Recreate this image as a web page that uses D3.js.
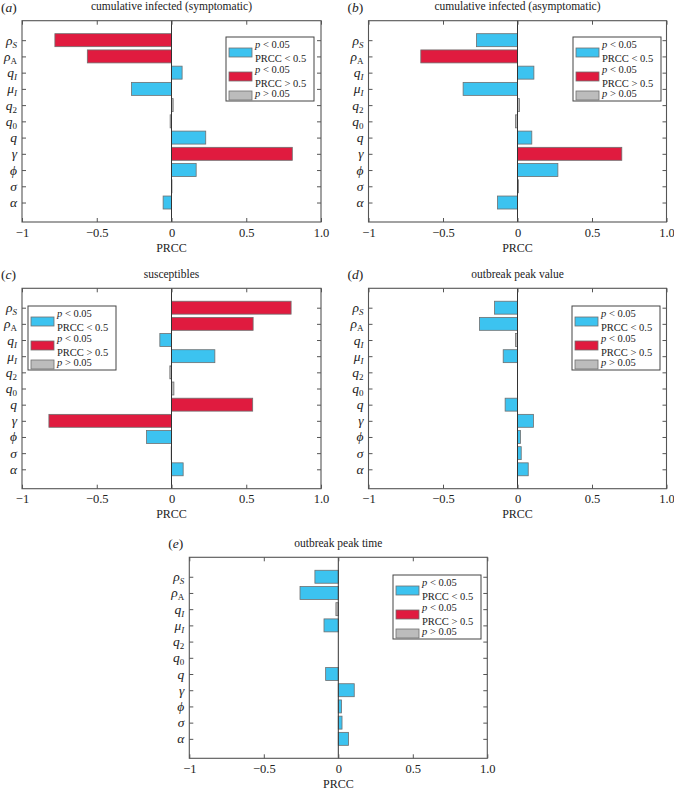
<!DOCTYPE html>
<html>
<head>
<meta charset="utf-8">
<script src="https://cdn.jsdelivr.net/npm/d3@7"></script>
<style>
  body { margin: 0; background: #fff; }
  svg { display: block; }
  text { font-family: "Liberation Serif", "DejaVu Serif", serif; fill: #222; }
</style>
</head>
<body>
<svg id="chart" width="674" height="792"></svg>
<script>
// ---- data ----
const paramBase = ["ρ", "ρ", "q", "μ", "q", "q", "q", "γ", "ϕ", "σ", "α"];
const paramSub  = ["S", "A", "I", "I", "2", "0", "", "", "", "", ""];
const subItalic = [true, false, true, true, false, false, false, false, false, false, false];

const xTicks = [-1, -0.5, 0, 0.5, 1];
const xTickLabels = ["−1", "−0.5", "0", "0.5", "1.0"];

const panelLetters = ["a", "b", "c", "d", "e"];
const panelTitles = [
  "cumulative infected (symptomatic)",
  "cumulative infected (asymptomatic)",
  "susceptibles",
  "outbreak peak value",
  "outbreak peak time"
];

// PRCC values, order: ρS, ρA, qI, μI, q2, q0, q, γ, ϕ, σ, α
const prccA = [-0.78, -0.563, 0.071, -0.267, 0.011, -0.009, 0.229, 0.808, 0.165, 0.003, -0.056];
const prccB = [-0.275, -0.649, 0.110, -0.365, 0.013, -0.013, 0.096, 0.700, 0.271, 0.006, -0.134];
const prccC = [0.800, 0.546, -0.078, 0.290, -0.011, 0.016, 0.543, -0.820, -0.167, -0.002, 0.078];
const prccD = [-0.154, -0.255, -0.013, -0.096, 0, 0, -0.083, 0.107, 0.020, 0.025, 0.072];
const prccE = [-0.157, -0.257, -0.016, -0.096, 0, 0, -0.085, 0.107, 0.022, 0.025, 0.069];

// significance class: lo = p<0.05 & |PRCC|<0.5, hi = p<0.05 & |PRCC|>0.5, ns = p>0.05
const classA = ["hi", "hi", "lo", "lo", "ns", "ns", "lo", "hi", "lo", "ns", "lo"];
const classB = ["lo", "hi", "lo", "lo", "ns", "ns", "lo", "hi", "lo", "ns", "lo"];
const classC = ["hi", "hi", "lo", "lo", "ns", "ns", "hi", "hi", "lo", "ns", "lo"];
const classD = ["lo", "lo", "ns", "lo", "ns", "ns", "lo", "lo", "lo", "lo", "lo"];
const classE = ["lo", "lo", "ns", "lo", "ns", "ns", "lo", "lo", "lo", "lo", "lo"];

const legendClasses = ["lo", "hi", "ns"];

// ---- styles / layout ----
const colors = { lo: "#3cc3f0", hi: "#e01b3f", ns: "#bcbcbc" };
const panels = [
  { left: 22,    right: 321,   top: 20.7,  bottom: 222,   legend: "right", lx: 7,   ly: 16.3, vals: prccA, cls: classA },
  { left: 368.5, right: 666.5, top: 20.7,  bottom: 222,   legend: "right", lx: 5.5, ly: 16.3, vals: prccB, cls: classB },
  { left: 22,    right: 321,   top: 288.3, bottom: 488.7, legend: "left",  lx: 6,   ly: 17.7, vals: prccC, cls: classC },
  { left: 368.5, right: 666.5, top: 288.3, bottom: 488.7, legend: "right", lx: 6.5, ly: 17.7, vals: prccD, cls: classD },
  { left: 189.3, right: 487.3, top: 557.3, bottom: 758.3, legend: "right", lx: 6.3, ly: 17.7, vals: prccE, cls: classE }
];

const svg = d3.select("#chart");
const axisColor = "#555";

panels.forEach((p, pi) => {
  const g = svg.append("g");
  const x = d3.scaleLinear().domain([-1, 1]).range([p.left, p.right]);
  const y = d3.scaleLinear().domain([-0.2, 12.2]).range([p.bottom, p.top]);
  const pos = i => paramBase.length - i; // ρS at 11 ... α at 1
  const barH = y(0) - y(0.8);

  // bars
  g.selectAll("rect.bar").data(p.vals).join("rect")
    .attr("class", "bar")
    .attr("x", d => x(Math.min(0, d)))
    .attr("width", d => Math.abs(x(d) - x(0)))
    .attr("y", (d, i) => y(pos(i)) - barH / 2)
    .attr("height", barH)
    .attr("fill", (d, i) => colors[p.cls[i]])
    .attr("stroke", (d) => d === 0 ? "none" : "#6f6f6f")
    .attr("stroke-width", 0.8);

  // zero line
  g.append("line")
    .attr("x1", x(0)).attr("x2", x(0))
    .attr("y1", p.top).attr("y2", p.bottom)
    .attr("stroke", "#333").attr("stroke-width", 1);

  // axes
  const cats = paramBase.map((_, i) => pos(i));
  const bottomAxis = d3.axisBottom(x).tickValues(xTicks)
    .tickFormat((d, i) => xTickLabels[i]).tickSizeInner(-4).tickSizeOuter(0);
  const gb = g.append("g").attr("transform", `translate(0,${p.bottom})`).call(bottomAxis);
  gb.selectAll("text").attr("dy", null).attr("y", 14.5).style("font-size", "12.5px")
    .style("font-family", '"Liberation Serif", serif').attr("fill", "#222");

  const topAxis = d3.axisTop(x).tickValues(xTicks).tickFormat("").tickSizeInner(-4).tickSizeOuter(0);
  g.append("g").attr("transform", `translate(0,${p.top})`).call(topAxis);

  const leftAxis = d3.axisLeft(y).tickValues(cats).tickFormat("").tickSizeInner(-4).tickSizeOuter(0);
  const gl = g.append("g").attr("transform", `translate(${p.left},0)`).call(leftAxis);
  const rightAxis = d3.axisRight(y).tickValues(cats).tickFormat("").tickSizeInner(-4).tickSizeOuter(0);
  g.append("g").attr("transform", `translate(${p.right},0)`).call(rightAxis);

  g.selectAll(".domain").remove();
  g.selectAll(".tick line").attr("stroke", axisColor).attr("stroke-width", 1);

  // category labels on left
  gl.selectAll(".tick").each(function (d, i) {
    const t = d3.select(this).append("text")
      .attr("x", -5).attr("y", 4)
      .attr("text-anchor", "end")
      .style("font-size", "13.5px")
      .style("font-family", '"Liberation Serif", serif')
      .attr("fill", "#222");
    t.append("tspan").style("font-style", "italic").text(paramBase[i]);
    if (paramSub[i]) {
      t.append("tspan").attr("dy", 3).style("font-size", "9px")
        .style("font-style", subItalic[i] ? "italic" : "normal").text(paramSub[i]);
    }
  });

  // frame
  g.append("rect")
    .attr("x", p.left).attr("y", p.top)
    .attr("width", p.right - p.left).attr("height", p.bottom - p.top)
    .attr("fill", "none").attr("stroke", axisColor).attr("stroke-width", 1.1);

  // titles
  g.append("text").attr("x", (p.left + p.right) / 2).attr("y", p.top - 10.5)
    .attr("text-anchor", "middle").style("font-size", "11.5px").text(panelTitles[pi]);
  const lab = g.append("text").attr("x", p.left - 21).attr("y", p.top - 9).style("font-size", "13.5px");
  lab.append("tspan").text("(");
  lab.append("tspan").style("font-style", "italic").text(panelLetters[pi]);
  lab.append("tspan").text(")");
  g.append("text").attr("x", x(0)).attr("y", p.bottom + 29.5)
    .attr("text-anchor", "middle").style("font-size", "12px").text("PRCC");

  // legend
  const lw = 88, lh = 64;
  const lx0 = p.legend === "right" ? p.right - p.lx - lw : p.left + p.lx;
  const ly0 = p.top + p.ly;
  const lg = g.append("g").attr("transform", `translate(${lx0},${ly0})`);
  lg.append("rect").attr("width", lw).attr("height", lh)
    .attr("fill", "#fff").attr("stroke", "#444").attr("stroke-width", 1);
  const swY = [11, 35, 54];
  legendClasses.forEach((c, k) => {
    lg.append("rect").attr("x", 3).attr("y", swY[k]).attr("width", 23).attr("height", 9)
      .attr("fill", colors[c]).attr("stroke", "#6f6f6f").attr("stroke-width", 0.8);
  });
  const legLines = [
    { y: 11, italic: "p", rest: " < 0.05" },
    { y: 25, italic: "", rest: "PRCC < 0.5" },
    { y: 36, italic: "p", rest: " < 0.05" },
    { y: 50, italic: "", rest: "PRCC > 0.5" },
    { y: 60, italic: "p", rest: " > 0.05" }
  ];
  legLines.forEach(l => {
    const t = lg.append("text").attr("x", 29).attr("y", l.y).style("font-size", "10.5px");
    if (l.italic) t.append("tspan").style("font-style", "italic").text(l.italic);
    t.append("tspan").text(l.rest);
  });
});
</script>
</body>
</html>
